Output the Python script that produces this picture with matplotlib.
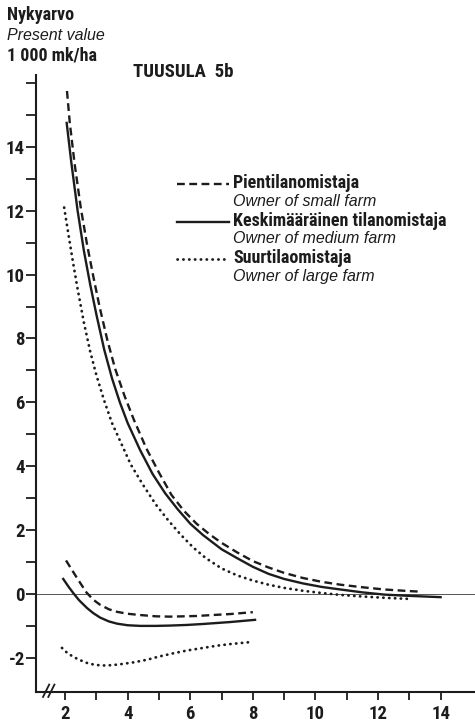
import matplotlib
matplotlib.use("Agg")
import matplotlib.pyplot as plt
from matplotlib.lines import Line2D

plt.rcParams['font.family'] = ['Roboto Condensed', 'Liberation Sans Narrow', 'Liberation Sans', 'DejaVu Sans']

# present value curves, 1000 mk/ha
small_x = [2.06, 2.15, 2.3, 2.5, 2.7, 2.9, 3.1, 3.35, 3.6, 3.9, 4.2, 4.6, 5.0, 5.4, 5.8,
           6.2, 6.6, 7.0, 7.5, 8.0, 8.5, 9.0, 9.6, 10.2, 10.8, 11.5, 12.2, 13.0, 13.4]
small_y = [15.75, 14.75, 13.5, 12.1, 10.95, 9.95, 9.0, 7.95, 7.05, 6.2, 5.45, 4.55, 3.8, 3.1, 2.6,
           2.2, 1.88, 1.6, 1.3, 1.03, 0.83, 0.66, 0.5, 0.38, 0.29, 0.21, 0.14, 0.09, 0.07]
medium_x = [2.05, 2.2, 2.4, 2.6, 2.8, 3.0, 3.25, 3.5, 3.75, 4.0, 4.4, 4.8, 5.2, 5.6, 6.0,
            6.4, 7.0, 7.5, 8.0, 8.5, 9.0, 9.6, 10.2, 10.8, 11.5, 12.2, 13.0, 14.0]
medium_y = [14.75, 13.5, 12.0, 10.75, 9.7, 8.75, 7.65, 6.75, 6.0, 5.35, 4.5, 3.75, 3.15, 2.65, 2.2,
            1.85, 1.4, 1.12, 0.85, 0.63, 0.47, 0.33, 0.22, 0.14, 0.05, -0.02, -0.06, -0.1]
large_x = [1.97, 2.1, 2.25, 2.4, 2.6, 2.8, 3.0, 3.25, 3.5, 3.8, 4.1, 4.5, 4.9, 5.3, 5.7,
           6.1, 6.5, 7.0, 7.5, 8.0, 8.5, 9.0, 9.6, 10.2, 10.8, 11.5, 12.2, 13.1]
large_y = [12.1, 11.3, 10.4, 9.55, 8.5, 7.6, 6.85, 6.05, 5.35, 4.7, 4.05, 3.4, 2.8, 2.3, 1.85,
           1.45, 1.12, 0.8, 0.58, 0.42, 0.29, 0.19, 0.1, 0.03, -0.03, -0.08, -0.12, -0.16]

# lower branch
small2_x = [2.03, 2.2, 2.4, 2.68, 2.9, 3.12, 3.4, 3.66, 4.0, 4.4, 4.9, 5.35, 5.8, 6.2, 6.7, 7.27, 8.0]
small2_y = [1.05, 0.78, 0.47, 0.05, -0.18, -0.34, -0.48, -0.56, -0.62, -0.66, -0.7, -0.71,
            -0.7, -0.69, -0.66, -0.63, -0.57]
medium2_x = [1.94, 2.1, 2.26, 2.45, 2.7, 2.9, 3.12, 3.4, 3.66, 4.0, 4.4, 4.9, 5.35, 5.9, 6.41, 7.27, 8.07]
medium2_y = [0.47, 0.24, 0.03, -0.2, -0.44, -0.6, -0.74, -0.86, -0.93, -0.98, -1.0, -1.0,
             -0.99, -0.97, -0.94, -0.88, -0.81]
large2_x = [1.90, 2.05, 2.26, 2.5, 2.70, 2.95, 3.21, 3.5, 3.85, 4.2, 4.62, 5.0, 5.45, 5.9, 6.41, 6.85, 7.27, 8.0]
large2_y = [-1.69, -1.83, -1.97, -2.08, -2.16, -2.22, -2.24, -2.23, -2.19, -2.14, -2.06, -1.96,
            -1.86, -1.77, -1.69, -1.62, -1.57, -1.5]

x_ticks = [2, 4, 6, 8, 10, 12, 14]
y_ticks = [-2, 0, 2, 4, 6, 8, 10, 12, 14]

labels_fi = ['Pientilanomistaja', 'Keskimääräinen tilanomistaja', 'Suurtilaomistaja']
labels_en = ['Owner of small farm', 'Owner of medium farm', 'Owner of large farm']

ink = '#1c1c1c'
W, H = 475, 723
fig = plt.figure(figsize=(W / 100, H / 100), dpi=100)
ax = fig.add_axes([36 / W, 31 / H, 1 - 36 / W, (692 - 75) / H])

dash = dict(color=ink, lw=1.7, linestyle=(0, (3.3, 1.9)))
solid = dict(color=ink, lw=1.7, linestyle='-')
dots = dict(color=ink, lw=2.0, linestyle=(0, (0.1, 2.0)), dash_capstyle='round')

ax.axhline(0, color='#555555', lw=0.7, zorder=1)

ax.plot(small_x, small_y, **dash)
ax.plot(medium_x, medium_y, **solid)
ax.plot(large_x, large_y, **dots)
ax.plot(small2_x, small2_y, **dash)
ax.plot(medium2_x, medium2_y, **solid)
ax.plot(large2_x, large2_y, **dots)

ax.set_xlim(1.07, 15.1)
ax.set_ylim(-3.07, 16.25)

for s in ['top', 'right']:
    ax.spines[s].set_visible(False)
for s in ['left', 'bottom']:
    ax.spines[s].set_linewidth(1.5)
    ax.spines[s].set_color(ink)

ax.set_xticks(x_ticks)
ax.set_xticks(range(3, 15, 2), minor=True)
ax.set_yticks(y_ticks)
ax.set_yticks([-1, 1, 3, 5, 7, 9, 11, 13, 15, 16], minor=True)
ax.set_yticklabels([f'{v}' if v >= 0 else f'-{abs(v)}' for v in y_ticks])
ax.tick_params(which='both', direction='out', color=ink, width=1.3, length=6)
ax.tick_params(axis='y', which='both', length=7, pad=1)
ax.tick_params(labelsize=13.5, labelcolor=ink)
for lab in ax.get_xticklabels() + ax.get_yticklabels():
    lab.set_fontweight('bold')

# axis break on the x axis
for dx in (0.0, 0.012):
    ax.add_line(Line2D([0.016 + dx, 0.03 + dx], [-0.008, 0.012], transform=ax.transAxes,
                       color=ink, lw=1.3, clip_on=False))

italic = ['Liberation Sans', 'DejaVu Sans']

# titles and y unit label
fig.text(7 / W, 1 - 15 / H, 'Nykyarvo', fontsize=13, color=ink, va='center', weight='bold')
fig.text(7 / W, 1 - 35 / H, 'Present value', fontsize=11.5, color=ink, va='center',
         family=italic, style='italic')
fig.text(7 / W, 1 - 55 / H, '1 000 mk/ha', fontsize=13, color=ink, va='center', weight='bold')
fig.text(133 / W, 1 - 72 / H, 'TUUSULA  5b', fontsize=13.5, color=ink, va='center', weight='bold')

# legend
keys = [(dash, 184), (solid, 222), (dots, 259)]
for (style, py), fi, en in zip(keys, labels_fi, labels_en):
    fig.add_artist(Line2D([177 / W, 229 / W], [1 - py / H, 1 - py / H], **style))
    fig.text(233 / W, 1 - (py - 1) / H, fi, fontsize=13, color=ink, va='center', weight='bold')
    fig.text(233 / W, 1 - (py + 17) / H, en, fontsize=11.5, color=ink, va='center',
             family=italic, style='italic')

fig.savefig('out.png', dpi=100)
